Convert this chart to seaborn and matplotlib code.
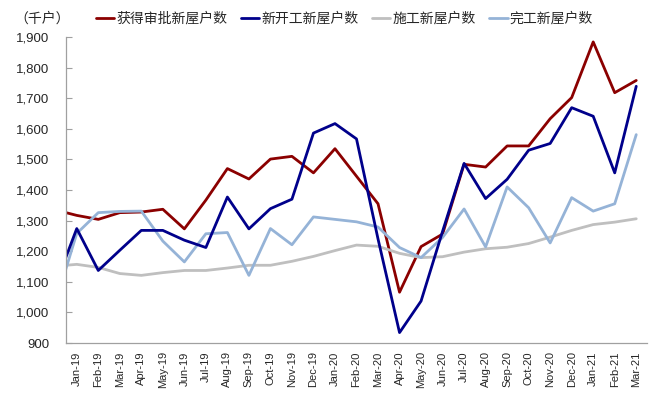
import numpy as np
import pandas as pd
import matplotlib
matplotlib.use('Agg')
import matplotlib.pyplot as plt
import seaborn as sns
from matplotlib.ticker import FuncFormatter, MultipleLocator, FixedLocator


# Monthly data (thousand units); Dec-18 sits just outside the left edge of the axis
months = ['Dec-18',
          'Jan-19', 'Feb-19', 'Mar-19', 'Apr-19', 'May-19', 'Jun-19', 'Jul-19', 'Aug-19',
          'Sep-19', 'Oct-19', 'Nov-19', 'Dec-19', 'Jan-20', 'Feb-20', 'Mar-20', 'Apr-20',
          'May-20', 'Jun-20', 'Jul-20', 'Aug-20', 'Sep-20', 'Oct-20', 'Nov-20', 'Dec-20',
          'Jan-21', 'Feb-21', 'Mar-21']
approved = [1335, 1317, 1304, 1326, 1328, 1337, 1273, 1367, 1470, 1436, 1501, 1510, 1456, 1535,
            1445, 1355, 1066, 1215, 1256, 1484, 1475, 1544, 1544, 1633, 1702, 1884, 1718, 1758]
started = [1088, 1274, 1137, 1203, 1268, 1268, 1236, 1212, 1377, 1273, 1339, 1370, 1586, 1617,
           1567, 1240, 934, 1037, 1265, 1487, 1372, 1435, 1530, 1552, 1669, 1641, 1456, 1739]
under_construction = [1151, 1157, 1147, 1127, 1121, 1130, 1137, 1137, 1145, 1154, 1154, 1167, 1183, 1202,
                      1220, 1216, 1193, 1179, 1182, 1197, 1208, 1213, 1225, 1246, 1268, 1287, 1295, 1306]
completed = [1028, 1258, 1326, 1330, 1331, 1233, 1165, 1257, 1261, 1121, 1274, 1221, 1312, 1304,
             1296, 1279, 1212, 1179, 1245, 1338, 1214, 1410, 1342, 1227, 1375, 1331, 1355, 1581]

series_names = ['获得审批新屋户数', '新开工新屋户数', '施工新屋户数', '完工新屋户数']
colors = ['#8B0000', '#00008B', '#BFBFBF', '#95B3D7']

df = pd.DataFrame({
    'pos': np.arange(len(months)) - 1,
    series_names[0]: approved,
    series_names[1]: started,
    series_names[2]: under_construction,
    series_names[3]: completed,
})

sns.set_style('white')
plt.rcParams['font.family'] = ['Liberation Sans', 'Noto Sans CJK SC', 'DejaVu Sans']

fig = plt.figure(figsize=(6.62, 4.09), dpi=100)
ax = fig.add_axes([66 / 662, 66 / 409, 581 / 662, 306 / 409])

zorders = [2.0, 2.3, 2.1, 2.2]
for name, col, z in zip(series_names, colors, zorders):
    sns.lineplot(data=df, x='pos', y=name, color=col, lw=2.0, ax=ax, label=name, zorder=z)

ax.set_xlim(-0.5, 26.5)
ax.set_ylim(900, 1900)
ax.set_xlabel('')
ax.set_ylabel('')

# x axis: category labels at centres, tick marks at boundaries
ax.xaxis.set_major_locator(FixedLocator(np.arange(27)))
ax.set_xticklabels(months[1:], rotation=90, fontsize=8)
ax.xaxis.set_minor_locator(FixedLocator(np.arange(28) - 0.5))
ax.tick_params(axis='x', which='major', length=0, pad=6)
ax.tick_params(axis='x', which='minor', direction='in', length=3, color='#A0A0A0', width=0.8)

ax.yaxis.set_major_locator(MultipleLocator(100))
ax.yaxis.set_major_formatter(FuncFormatter(lambda v, p: f'{int(v):,}'))
ax.tick_params(axis='y', direction='in', length=4, color='#A0A0A0', width=0.8, labelsize=9.5, pad=12)
ax.tick_params(left=True, bottom=True)

for s in ['top', 'right']:
    ax.spines[s].set_visible(False)
for s in ['left', 'bottom']:
    ax.spines[s].set_color('#A0A0A0')
    ax.spines[s].set_linewidth(0.9)

ax.get_legend().remove()
handles, labels = ax.get_legend_handles_labels()
fig.legend(handles, labels, ncol=4, loc='center left', bbox_to_anchor=(96 / 662, 1 - 19 / 409),
           frameon=False, handlelength=1.3, handletextpad=0.15, columnspacing=1.0,
           borderaxespad=0, borderpad=0, fontsize=10)

fig.text(14 / 662, 1 - 19 / 409, '（千户）', fontsize=10, va='center', ha='left')

plt.savefig('out.png', dpi=100)
